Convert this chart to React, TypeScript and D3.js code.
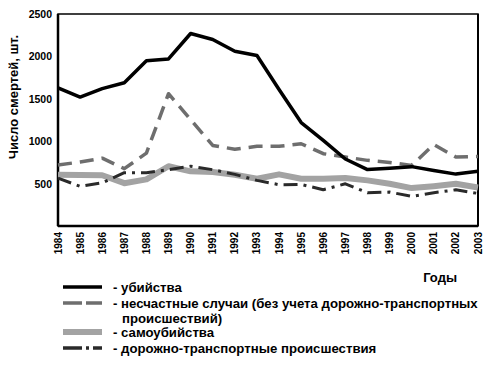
import { useEffect, useRef } from 'react';
import * as d3 from 'd3';

const years = [1984, 1985, 1986, 1987, 1988, 1989, 1990, 1991, 1992, 1993, 1994, 1995, 1996, 1997, 1998, 1999, 2000, 2001, 2002, 2003];
const murders = [1630, 1520, 1620, 1690, 1950, 1970, 2270, 2200, 2060, 2010, 1610, 1220, 1010, 790, 665, 680, 700, 655, 612, 645];
const accidents = [720, 754, 800, 676, 860, 1560, 1255, 950, 905, 940, 940, 970, 853, 813, 774, 750, 715, 960, 813, 820];
const suicides = [605, 600, 598, 505, 550, 705, 645, 636, 605, 557, 609, 557, 557, 565, 538, 498, 447, 470, 498, 455];
const roadAccidents = [565, 467, 510, 629, 629, 664, 705, 664, 609, 538, 487, 490, 428, 498, 392, 400, 349, 392, 427, 384];
const yTicks = [500, 1000, 1500, 2000, 2500];

const series = [
  { name: 'murders', values: murders, color: '#000000', width: 3.5, dash: '' },
  { name: 'accidents', values: accidents, color: '#6e6e6e', width: 3.5, dash: '14,8' },
  { name: 'suicides', values: suicides, color: '#a3a3a3', width: 6, dash: '' },
  { name: 'road', values: roadAccidents, color: '#2a2a2a', width: 3, dash: '14,6,3,6' },
];

const legendItems = [
  { idx: 0, lines: ['- убийства'] },
  { idx: 1, lines: ['- несчастные случаи (без учета дорожно-транспортных', 'происшествий)'] },
  { idx: 2, lines: ['- самоубийства'] },
  { idx: 3, lines: ['- дорожно-транспортные происшествия'] },
];

export default function App() {
  const svgRef = useRef<SVGSVGElement>(null);

  useEffect(() => {
    if (!svgRef.current) return;
    const width = 493;
    const height = 365;
    const margin = { top: 14, right: 15, bottom: 139, left: 58 };

    const svg = d3.select(svgRef.current);
    svg.selectAll('*').remove();
    svg.style('font-family', '"Liberation Sans", Arial, sans-serif');

    const x = d3.scaleLinear()
      .domain([1984, 2003])
      .range([margin.left, width - margin.right]);
    const y = d3.scaleLinear()
      .domain([0, 2500])
      .range([height - margin.bottom, margin.top]);

    // frame
    svg.append('rect')
      .attr('x', margin.left).attr('y', margin.top)
      .attr('width', width - margin.right - margin.left)
      .attr('height', height - margin.bottom - margin.top)
      .attr('fill', 'none').attr('stroke', '#000').attr('stroke-width', 1.5);
    svg.append('line')
      .attr('x1', margin.left).attr('x2', margin.left)
      .attr('y1', margin.top).attr('y2', height - margin.bottom)
      .attr('stroke', '#000').attr('stroke-width', 2.5);
    svg.append('line')
      .attr('x1', margin.left).attr('x2', width - margin.right)
      .attr('y1', height - margin.bottom).attr('y2', height - margin.bottom)
      .attr('stroke', '#000').attr('stroke-width', 2.5);
    svg.append('line')
      .attr('x1', width - margin.right).attr('x2', width - margin.right)
      .attr('y1', margin.top).attr('y2', height - margin.bottom)
      .attr('stroke', '#000').attr('stroke-width', 2);

    // y tick labels
    svg.append('g')
      .selectAll('text')
      .data(yTicks)
      .join('text')
      .attr('x', margin.left - 6)
      .attr('y', d => y(d) + 4)
      .attr('text-anchor', 'end')
      .style('font-size', '10.5px')
      .style('font-weight', 'bold')
      .text(d => d);

    // x tick labels (rotated)
    svg.append('g')
      .selectAll('text')
      .data(years)
      .join('text')
      .attr('transform', d => `translate(${x(d) + 3.5},${height - margin.bottom + 6}) rotate(-90)`)
      .attr('text-anchor', 'end')
      .style('font-size', '10px')
      .style('font-weight', 'bold')
      .text(d => d);

    // y axis title
    svg.append('text')
      .attr('transform', `translate(18,${97}) rotate(-90)`)
      .attr('text-anchor', 'middle')
      .style('font-size', '13px')
      .style('font-weight', 'bold')
      .text('Число смертей, шт.');

    svg.append('text')
      .attr('x', 457).attr('y', 282)
      .attr('text-anchor', 'end')
      .style('font-size', '13px')
      .style('font-weight', 'bold')
      .text('Годы');

    // lines — draw suicides first so others sit on top
    const line = d3.line<number>()
      .x((_, i) => x(years[i]))
      .y(d => y(d))
      .curve(d3.curveLinear);
    const order = [2, 1, 3, 0];
    order.forEach(k => {
      const s = series[k];
      svg.append('path')
        .datum(s.values)
        .attr('d', line)
        .attr('fill', 'none')
        .attr('stroke', s.color)
        .attr('stroke-width', s.width)
        .attr('stroke-dasharray', s.dash || null)
        .attr('stroke-linejoin', 'round');
    });

    // legend
    const rowY = [287, 303, 332, 348];
    const legend = svg.append('g');
    legendItems.forEach((item, r) => {
      const s = series[item.idx];
      legend.append('line')
        .attr('x1', 63).attr('x2', 102)
        .attr('y1', rowY[r]).attr('y2', rowY[r])
        .attr('stroke', s.color)
        .attr('stroke-width', item.idx === 2 ? 6 : 3.5)
        .attr('stroke-dasharray', item.idx === 1 ? '19,4' : item.idx === 3 ? '19,4,3,4' : null);
      item.lines.forEach((t, j) => {
        legend.append('text')
          .attr('x', j === 0 ? 113 : 122)
          .attr('y', rowY[r] + 4.5 + j * 15)
          .style('font-size', '13.2px')
          .style('font-weight', 'bold')
          .text(t);
      });
    });
  }, []);

  return (
    <div style={{ width: 493, height: 365, margin: -8 }}>
      <svg ref={svgRef} width={493} height={365} style={{ display: 'block' }}></svg>
    </div>
  );
}
